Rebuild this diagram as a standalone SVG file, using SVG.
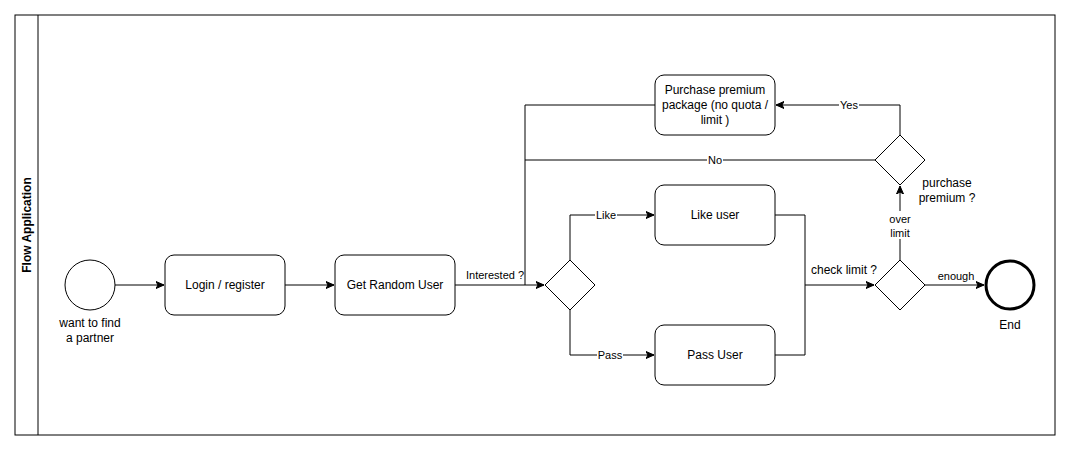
<svg xmlns="http://www.w3.org/2000/svg" width="1071" height="451" viewBox="0 0 1071 451">
<style>
.n{fill:#fff;stroke:#000;stroke-width:1}
.t{font-family:"Liberation Sans",Arial,sans-serif;font-size:12px;fill:#000;text-anchor:middle}
.el{font-family:"Liberation Sans",Arial,sans-serif;font-size:11px;fill:#000;text-anchor:middle}
.c{fill:none;stroke:#000;stroke-width:1}
.bg{fill:#fff}
</style>
<defs>
<marker id="a" markerWidth="10" markerHeight="10" refX="8" refY="4" orient="auto" markerUnits="userSpaceOnUse">
<path d="M0,0.5 L8,4 L0,7.5 L2,4 z" fill="#000" stroke="#000" stroke-width="1"/>
</marker>
</defs>
<rect width="1071" height="451" fill="#fff"/>
<g id="pool">
<rect x="15" y="15" width="1040" height="420" fill="#fff" stroke="#000"/>
<line x1="38" y1="15" x2="38" y2="435" stroke="#000"/>
<text class="t" style="font-weight:bold" transform="translate(31,225) rotate(-90)" x="0" y="0">Flow Application</text>
</g>
<g id="connectors">
<path class="c" d="M115,285 H164" marker-end="url(#a)"/>
<path class="c" d="M285,285 H334" marker-end="url(#a)"/>
<path class="c" d="M455,285 H544" marker-end="url(#a)"/>
<text class="el" x="495" y="279">Interested ?</text>
<path class="c" d="M655,105 H525 V285"/>
<path class="c" d="M875,160 H525"/>
<rect class="bg" x="707" y="153" width="16" height="13"/>
<text class="el" x="715" y="164">No</text>
<path class="c" d="M900,135 V105 H776" marker-end="url(#a)"/>
<rect class="bg" x="839" y="98" width="20" height="13"/>
<text class="el" x="849" y="109">Yes</text>
<path class="c" d="M570,260 V215 H654" marker-end="url(#a)"/>
<rect class="bg" x="595" y="208" width="22" height="13"/>
<text class="el" x="606" y="219">Like</text>
<path class="c" d="M570,310 V355 H654" marker-end="url(#a)"/>
<rect class="bg" x="597" y="348" width="26" height="13"/>
<text class="el" x="610" y="359">Pass</text>
<path class="c" d="M775,215 H805 V285 H874" marker-end="url(#a)"/>
<path class="c" d="M775,355 H805 V285"/>
<text class="t" x="844" y="274">check limit ?</text>
<path class="c" d="M900,260 V186" marker-end="url(#a)"/>
<rect class="bg" x="888" y="211" width="24" height="28"/>
<text class="el" x="900" y="223">over</text>
<text class="el" x="900" y="237">limit</text>
<path class="c" d="M925,285 H984" marker-end="url(#a)"/>
<text class="el" x="956" y="280">enough</text>
</g>
<g id="start">
<circle class="n" cx="90" cy="285" r="25"/>
<text class="t" x="90" y="327">want to find</text>
<text class="t" x="90" y="342">a partner</text>
</g>
<g id="login">
<rect class="n" x="165" y="255" width="120" height="60" rx="9"/>
<text class="t" x="225" y="289">Login / register</text>
</g>
<g id="random">
<rect class="n" x="335" y="255" width="120" height="60" rx="9"/>
<text class="t" x="395" y="289">Get Random User</text>
</g>
<g id="interested">
<path class="n" d="M570,260 L595,285 L570,310 L545,285 Z"/>
</g>
<g id="like">
<rect class="n" x="655" y="185" width="120" height="60" rx="9"/>
<text class="t" x="715" y="219">Like user</text>
</g>
<g id="pass">
<rect class="n" x="655" y="325" width="120" height="60" rx="9"/>
<text class="t" x="715" y="359">Pass User</text>
</g>
<g id="premium">
<rect class="n" x="655" y="75" width="120" height="60" rx="9"/>
<text class="t" x="715" y="94">Purchase premium</text>
<text class="t" x="715" y="109">package (no quota /</text>
<text class="t" x="715" y="124">limit )</text>
</g>
<g id="checklimit">
<path class="n" d="M900,260 L925,285 L900,310 L875,285 Z"/>
</g>
<g id="purchase">
<path class="n" d="M900,135 L925,160 L900,185 L875,160 Z"/>
<text class="t" x="947" y="187">purchase</text>
<text class="t" x="947" y="202">premium ?</text>
</g>
<g id="end">
<circle cx="1010" cy="285" r="24" fill="#fff" stroke="#000" stroke-width="3"/>
<text class="t" x="1010" y="329">End</text>
</g>
</svg>
